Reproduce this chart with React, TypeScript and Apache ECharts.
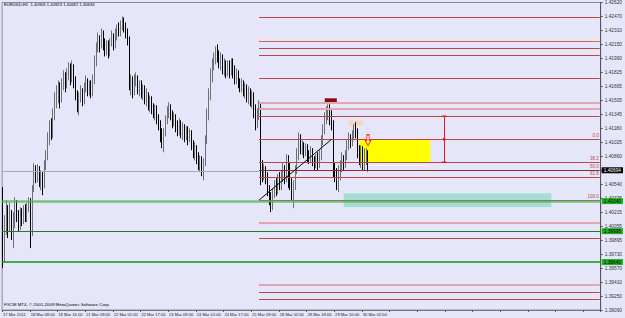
import React, { useEffect, useRef } from "react";
import * as echarts from "echarts";

const SYMBOL = "EURUSD,H1";
const TIME_LABELS = [
  "17 Mar 2011", "18 Mar 08:00", "18 Mar 16:00", "21 Mar 09:00", "22 Mar 01:00",
  "22 Mar 17:00", "23 Mar 09:00", "24 Mar 01:00", "24 Mar 17:00", "25 Mar 09:00",
  "28 Mar 02:00", "28 Mar 18:00", "29 Mar 10:00", "30 Mar 02:00",
];
const BARS_PER_LABEL = 16;
const SLOT_COUNT = 346;
const Y_MIN = 1.3909;
const Y_INTERVAL = 0.0016045;
const Y_MAX = 1.426199;
const Y_TICK_LABELS = [
  "1.39090", "1.39250", "1.39410", "1.39570", "1.39730", "1.39895", "1.40055", "1.40215",
  "1.40375", "1.40540", "1.40700", "1.40860", "1.41025", "1.41180", "1.41345", "1.41505",
  "1.41665", "1.41825", "1.41990", "1.42150", "1.42310", "1.42470", "1.42620",
];

// [open, close, low, high]
const OHLC: number[][] = [
  [1.40408,1.39778,1.39572,1.40500],[1.39778,1.40064,1.39640,1.40179],[1.40064,1.40236,1.39950,1.40351],
  [1.40236,1.40064,1.39916,1.40294],[1.40064,1.40179,1.39984,1.40317],[1.40179,1.39984,1.39893,1.40236],
  [1.39984,1.40099,1.39801,1.40213],[1.40099,1.40294,1.40030,1.40385],[1.40294,1.40179,1.40099,1.40351],
  [1.40179,1.40064,1.39984,1.40236],[1.40064,1.40213,1.40007,1.40271],[1.40213,1.40122,1.40053,1.40259],
  [1.40122,1.40236,1.40076,1.40294],[1.40236,1.40145,1.40099,1.40305],[1.40145,1.40259,1.40099,1.40317],
  [1.40259,1.40351,1.40213,1.40385],[1.40351,1.39984,1.39801,1.40374],[1.39984,1.40466,1.39938,1.40523],
  [1.40466,1.40695,1.40443,1.40775],[1.40695,1.40603,1.40546,1.40752],[1.40603,1.40718,1.40557,1.40764],
  [1.40718,1.40580,1.40500,1.40741],[1.40580,1.40637,1.40466,1.40695],[1.40637,1.40523,1.40408,1.40672],
  [1.40523,1.40752,1.40489,1.40809],[1.40752,1.40867,1.40695,1.40924],[1.40867,1.41039,1.40809,1.41130],
  [1.41039,1.41176,1.40981,1.41268],[1.41176,1.41096,1.41039,1.41291],[1.41096,1.41325,1.41062,1.41405],
  [1.41325,1.41497,1.41268,1.41589],[1.41497,1.41554,1.41405,1.41669],[1.41554,1.41635,1.41463,1.41726],
  [1.41635,1.41520,1.41405,1.41703],[1.41520,1.41669,1.41474,1.41749],[1.41669,1.41749,1.41612,1.41841],
  [1.41749,1.41669,1.41589,1.41818],[1.41669,1.41783,1.41635,1.41864],[1.41783,1.41841,1.41726,1.41932],
  [1.41841,1.41749,1.41669,1.41921],[1.41749,1.41864,1.41703,1.41955],[1.41864,1.41726,1.41635,1.41910],
  [1.41726,1.41554,1.41497,1.41772],[1.41554,1.41440,1.41359,1.41612],[1.41440,1.41520,1.41325,1.41589],
  [1.41520,1.41589,1.41474,1.41669],[1.41589,1.41497,1.41428,1.41635],[1.41497,1.41635,1.41451,1.41703],
  [1.41635,1.41703,1.41589,1.41783],[1.41703,1.41612,1.41543,1.41749],[1.41612,1.41669,1.41554,1.41726],
  [1.41669,1.41589,1.41520,1.41726],[1.41589,1.41726,1.41543,1.41795],[1.41726,1.41932,1.41680,1.42013],
  [1.41932,1.42093,1.41887,1.42162],[1.42093,1.42185,1.42047,1.42276],[1.42185,1.42127,1.42047,1.42242],
  [1.42127,1.42242,1.42093,1.42322],[1.42242,1.42162,1.42070,1.42299],[1.42162,1.42070,1.42001,1.42208],
  [1.42070,1.42127,1.42013,1.42185],[1.42127,1.42047,1.41978,1.42185],[1.42047,1.42162,1.42001,1.42208],
  [1.42162,1.42208,1.42116,1.42299],[1.42208,1.42127,1.42070,1.42265],[1.42127,1.42242,1.42093,1.42322],
  [1.42242,1.42299,1.42185,1.42368],[1.42299,1.42276,1.42230,1.42391],[1.42276,1.42356,1.42230,1.42414],
  [1.42356,1.42391,1.42299,1.42460],[1.42391,1.42322,1.42276,1.42448],[1.42322,1.42276,1.42208,1.42391],
  [1.42276,1.42185,1.42127,1.42322],[1.42185,1.41669,1.41612,1.42230],[1.41669,1.41726,1.41554,1.41795],
  [1.41726,1.41612,1.41520,1.41772],[1.41612,1.41726,1.41554,1.41795],[1.41726,1.41749,1.41657,1.41818],
  [1.41749,1.41635,1.41566,1.41783],[1.41635,1.41680,1.41543,1.41726],[1.41680,1.41589,1.41520,1.41726],
  [1.41589,1.41635,1.41497,1.41680],[1.41635,1.41520,1.41451,1.41669],[1.41520,1.41554,1.41428,1.41635],
  [1.41554,1.41440,1.41382,1.41589],[1.41440,1.41497,1.41359,1.41554],[1.41497,1.41405,1.41337,1.41543],
  [1.41405,1.41359,1.41291,1.41463],[1.41359,1.41405,1.41268,1.41451],[1.41405,1.41291,1.41222,1.41440],
  [1.41291,1.41210,1.41153,1.41337],[1.41210,1.41096,1.41016,1.41268],[1.41096,1.41039,1.40947,1.41176],
  [1.41039,1.41130,1.40901,1.41176],[1.41130,1.41268,1.41084,1.41325],[1.41268,1.41359,1.41222,1.41428],
  [1.41359,1.41405,1.41291,1.41474],[1.41405,1.41325,1.41268,1.41451],[1.41325,1.41245,1.41176,1.41382],
  [1.41245,1.41291,1.41199,1.41359],[1.41291,1.41210,1.41130,1.41337],[1.41210,1.41153,1.41084,1.41268],
  [1.41153,1.41222,1.41096,1.41291],[1.41222,1.41130,1.41062,1.41268],[1.41130,1.41176,1.41039,1.41245],
  [1.41176,1.41084,1.41016,1.41222],[1.41084,1.41153,1.41039,1.41199],[1.41153,1.41062,1.40981,1.41199],
  [1.41062,1.41107,1.41016,1.41176],[1.41107,1.40981,1.40924,1.41153],[1.40981,1.40901,1.40832,1.41039],
  [1.40901,1.40947,1.40809,1.41016],[1.40947,1.40832,1.40764,1.40981],[1.40832,1.40752,1.40695,1.40901],
  [1.40752,1.40809,1.40672,1.40867],[1.40809,1.40695,1.40626,1.40855],[1.40695,1.40786,1.40580,1.40832],
  [1.40786,1.41039,1.40741,1.41096],[1.41039,1.41325,1.40993,1.41405],[1.41325,1.41554,1.41268,1.41635],
  [1.41554,1.41783,1.41497,1.41864],[1.41783,1.41898,1.41703,1.41978],[1.41898,1.41978,1.41841,1.42047],
  [1.41978,1.42047,1.41910,1.42116],[1.42047,1.42001,1.41932,1.42139],[1.42001,1.41932,1.41864,1.42070],
  [1.41932,1.41978,1.41841,1.42047],[1.41978,1.41864,1.41795,1.42024],[1.41864,1.41910,1.41772,1.41978],
  [1.41910,1.41818,1.41749,1.41955],[1.41818,1.41887,1.41772,1.41955],[1.41887,1.41841,1.41749,1.41955],
  [1.41841,1.41932,1.41783,1.41978],[1.41932,1.41841,1.41749,1.41978],[1.41841,1.41749,1.41680,1.41898],
  [1.41749,1.41795,1.41680,1.41864],[1.41795,1.41703,1.41635,1.41841],[1.41703,1.41657,1.41589,1.41749],
  [1.41657,1.41703,1.41589,1.41749],[1.41703,1.41612,1.41543,1.41726],[1.41612,1.41657,1.41520,1.41703],
  [1.41657,1.41554,1.41474,1.41680],[1.41554,1.41612,1.41451,1.41657],[1.41612,1.41497,1.41428,1.41635],
  [1.41497,1.41543,1.41405,1.41612],[1.41543,1.41382,1.41291,1.41589],[1.41382,1.41245,1.41153,1.41451],
  [1.41245,1.41325,1.41176,1.41405],[1.41325,1.41405,1.41268,1.41497],[1.41405,1.40718,1.40523,1.41474],
  [1.40718,1.40637,1.40557,1.40809],[1.40637,1.40695,1.40580,1.40764],[1.40695,1.40603,1.40534,1.40741],
  [1.40603,1.40466,1.40397,1.40672],[1.40466,1.40351,1.40294,1.40523],[1.40351,1.40294,1.40213,1.40443],
  [1.40294,1.40443,1.40236,1.40489],[1.40443,1.40523,1.40374,1.40580],[1.40523,1.40466,1.40397,1.40603],
  [1.40466,1.40580,1.40420,1.40649],[1.40580,1.40523,1.40466,1.40672],[1.40523,1.40626,1.40466,1.40695],
  [1.40626,1.40695,1.40557,1.40786],[1.40695,1.40603,1.40534,1.40752],[1.40603,1.40809,1.40557,1.40878],
  [1.40809,1.40718,1.40489,1.40867],[1.40718,1.40557,1.40466,1.40786],[1.40557,1.40466,1.40351,1.40603],
  [1.40466,1.40523,1.40259,1.40580],[1.40523,1.40695,1.40466,1.40752],[1.40695,1.40867,1.40649,1.40947],
  [1.40867,1.41039,1.40809,1.41130],[1.41039,1.40947,1.40878,1.41107],[1.40947,1.40981,1.40867,1.41039],
  [1.40981,1.40901,1.40832,1.41016],[1.40901,1.40947,1.40855,1.41004],[1.40947,1.40867,1.40786,1.40993],
  [1.40867,1.40832,1.40764,1.40924],[1.40832,1.40924,1.40786,1.40970],[1.40924,1.40809,1.40741,1.40947],
  [1.40809,1.40752,1.40695,1.40855],[1.40752,1.40832,1.40718,1.40878],[1.40832,1.40764,1.40695,1.40901],
  [1.40764,1.40867,1.40718,1.40924],[1.40867,1.41039,1.40809,1.41096],[1.41039,1.41153,1.40981,1.41222],
  [1.41153,1.41291,1.41107,1.41359],[1.41291,1.41359,1.41222,1.41428],[1.41359,1.41405,1.41268,1.41451],
  [1.41405,1.41291,1.41210,1.41451],[1.41291,1.41210,1.41153,1.41382],[1.41210,1.40695,1.40615,1.41268],
  [1.40695,1.40637,1.40557,1.40786],[1.40637,1.40557,1.40466,1.40718],[1.40557,1.40672,1.40443,1.40752],
  [1.40672,1.40752,1.40580,1.40809],[1.40752,1.40809,1.40672,1.40901],[1.40809,1.40752,1.40695,1.40867],
  [1.40752,1.40867,1.40718,1.40924],[1.40867,1.40981,1.40809,1.41039],[1.40981,1.41062,1.40924,1.41130],
  [1.41062,1.41016,1.40947,1.41107],[1.41016,1.41096,1.40970,1.41153],[1.41096,1.41176,1.41039,1.41222],
  [1.41176,1.41130,1.41062,1.41245],[1.41130,1.40924,1.40832,1.41176],[1.40924,1.40809,1.40752,1.40981],
  [1.40809,1.40924,1.40718,1.40981],[1.40924,1.40752,1.40695,1.40970],[1.40752,1.40832,1.40695,1.40947],
  [1.40832,1.40905,1.40752,1.40947],[1.40905,1.40694,1.40681,1.40923],
];

// drawn objects (prices and bar indices)
const OBJECT_START_BAR = 148;
const RED_LEVELS = [1.42448, 1.42093, 1.42013, 1.41749, 1.41314, 1.39916, 1.39297, 1.39216];
const ORANGE_LEVELS = [1.42173];
const PALE_LEVELS = [1.41474, 1.41405, 1.40087, 1.39377];
const FIB_RATIOS = ["0.0", "38.2", "50.0", "61.8", "100.0"];
const FIB_PRICES = [1.41050, 1.40786, 1.40695, 1.40615, 1.40351];
const GREEN_LEVELS = [1.40340, 1.39995, 1.39640];
const GRAY_LEVEL = 1.40683;
const DOTTED_LEVEL = { price: 1.40752, from: 212, to: 246 };
const TREND_LINE = [[148, 1.40351], [190, 1.41050]];
const YELLOW_BOX = [[206, 1.41050], [247, 1.40786]];
const TEAL_BOX = [[197, 1.40431], [317, 1.40271]];
const PEACH_BOX = [[200, 1.41268], [208, 1.41199]];
const MAROON_BOX = [[186, 1.41520], [193, 1.41474]];
const MEASURE = { bar: 255, prices: [1.41314, 1.41050, 1.40786] };
const ARROW = { bar: 211, price: 1.41039 };

const BG = "#e6e6fa";
const FONT = "Liberation Sans";

export default function App() {
  const ref = useRef<HTMLDivElement>(null);
  useEffect(() => {
    document.body.style.margin = "0";
    const chart = echarts.init(ref.current!, null, { renderer: "svg" });
    const categories = Array.from({ length: SLOT_COUNT }, (_, i) => String(i));
    const last = OHLC[OHLC.length - 1];
    const header = `${SYMBOL}  ${last[0].toFixed(5)} ${last[3].toFixed(5)} ${last[2].toFixed(5)} ${last[1].toFixed(5)}`;
    const END = SLOT_COUNT - 1;

    const seg = (price: number, color: string, width: number, extra: any = {}) => {
      const ls = { color, width, type: extra.type || "solid" };
      const lab = extra.label ? { show: true, ...extra.label } : { show: false };
      return [
        { coord: [extra.from ?? OBJECT_START_BAR, price], lineStyle: ls, label: lab },
        { coord: [extra.to ?? END, price], lineStyle: ls, label: lab },
      ];
    };

    const axisBadge = (price: number, bg: string, fg: string, lineColor: string, width: number) => ({
      yAxis: price,
      lineStyle: { color: lineColor, width, type: "solid" },
      label: {
        show: true, position: "end", distance: 1, formatter: price.toFixed(5), opacity: 1,
        backgroundColor: bg, color: fg, fontSize: 4.8, fontFamily: FONT, padding: [1, 2, 0, 2],
      },
    });

    const markLines: any[] = [];
    RED_LEVELS.forEach((p) => markLines.push(seg(p, "#b84848", 1)));
    ORANGE_LEVELS.forEach((p) => markLines.push(seg(p, "#d8683a", 1)));
    PALE_LEVELS.forEach((p) => markLines.push(seg(p, "#e2a6b0", 2)));
    FIB_PRICES.forEach((p, i) =>
      markLines.push(
        seg(p, i === 2 ? "#8a2f2f" : "#b84848", 1, {
          label: {
            position: "insideEndTop", formatter: FIB_RATIOS[i], color: "#b84848",
            fontSize: 4.5, fontFamily: FONT, distance: 1,
          },
        })
      )
    );
    markLines.push(seg(GRAY_LEVEL, "#a8a8b0", 1, { from: 0, to: OBJECT_START_BAR }));
    markLines.push(seg(DOTTED_LEVEL.price, "#ffffff", 1, { from: DOTTED_LEVEL.from, to: DOTTED_LEVEL.to, type: "dotted" }));
    markLines.push([
      { coord: TREND_LINE[0], lineStyle: { color: "#000", width: 1, type: "solid" } },
      { coord: TREND_LINE[1], lineStyle: { color: "#000", width: 1, type: "solid" } },
    ]);
    markLines.push([
      { coord: [MEASURE.bar, MEASURE.prices[0]], lineStyle: { color: "#e02020", width: 1, type: "solid" } },
      { coord: [MEASURE.bar, MEASURE.prices[2]], lineStyle: { color: "#e02020", width: 1, type: "solid" } },
    ]);
    markLines.push(axisBadge(GREEN_LEVELS[0], "#22b022", "#000", "rgba(80,180,80,0.75)", 2.5));
    markLines.push(axisBadge(GREEN_LEVELS[1], "#22b022", "#000", "#1f7f1f", 1));
    markLines.push(axisBadge(GREEN_LEVELS[2], "#22b022", "#000", "#119911", 1.5));
    markLines.push(axisBadge(last[1], "#000", "#fff", "rgba(0,0,0,0)", 1));

    const box = (b: number[][], color: string) => [
      { coord: b[0], itemStyle: { color, opacity: 1 } },
      { coord: b[1], itemStyle: { color, opacity: 1 } },
    ];

    const markPoints: any[] = [
      {
        coord: [ARROW.bar, ARROW.price],
        symbol: "path://M3,0 L7,0 L7,6 L10,6 L5,12 L0,6 L3,6 Z",
        symbolSize: [6, 11],
        itemStyle: { color: "rgba(255,230,200,0.7)", borderColor: "#ff3010", borderWidth: 1 },
      },
      ...MEASURE.prices.map((p, i) => ({
        coord: [MEASURE.bar, p],
        symbol: i === 1 ? "circle" : "rect",
        symbolSize: i === 1 ? 3 : [5, 1.5],
        itemStyle: { color: "#e02020" },
      })),
    ];

    chart.setOption({
      animation: false,
      backgroundColor: BG,
      grid: { left: 2, right: 17, top: 2, bottom: 8, show: true, borderColor: "#8a8a96", borderWidth: 1, backgroundColor: BG },
      xAxis: {
        type: "category",
        data: categories,
        boundaryGap: true,
        axisLine: { show: true, lineStyle: { color: "#777" } },
        axisTick: { show: true, interval: BARS_PER_LABEL - 1, length: 2, lineStyle: { color: "#555" } },
        axisLabel: {
          interval: BARS_PER_LABEL - 1,
          align: "left",
          margin: 2,
          fontSize: 4.1,
          fontFamily: FONT,
          color: "#222",
          formatter: (_v: string, idx: number) => {
            const k = idx / BARS_PER_LABEL;
            return Number.isInteger(k) && TIME_LABELS[k] ? TIME_LABELS[k] : "";
          },
        },
        splitLine: { show: false },
      },
      yAxis: {
        type: "value",
        position: "right",
        min: Y_MIN,
        max: Y_MAX,
        interval: Y_INTERVAL,
        axisLine: { show: true, lineStyle: { color: "#555" } },
        axisTick: { show: true, length: 2, lineStyle: { color: "#555" } },
        axisLabel: {
          margin: 4,
          fontSize: 4.8,
          fontFamily: FONT,
          color: "#333",
          formatter: (v: number) => {
            const i = Math.round((v - Y_MIN) / Y_INTERVAL);
            return Y_TICK_LABELS[Math.max(0, Math.min(Y_TICK_LABELS.length - 1, i))];
          },
        },
        splitLine: { show: false },
      },
      series: [
        {
          type: "candlestick",
          data: OHLC,
          barWidth: 1.2,
          itemStyle: {
            color: "#f4f4f4",
            borderColor: "#707070",
            color0: "#000000",
            borderColor0: "#000000",
            borderWidth: 1,
          },
          markArea: {
            silent: true,
            data: [
              box(TEAL_BOX, "#a6dcd6"),
              box(YELLOW_BOX, "#ffff00"),
              box(PEACH_BOX, "#f6d8bc"),
              box(MAROON_BOX, "#8b0a0a"),
            ],
          },
          markLine: {
            silent: true,
            precision: 5,
            symbol: ["none", "none"],
            lineStyle: { type: "solid" },
            label: { show: false },
            data: markLines,
          },
          markPoint: {
            silent: true,
            label: { show: false },
            data: markPoints,
          },
        },
      ],
      graphic: [
        {
          type: "text", left: 4, top: 2,
          style: { text: header, fontSize: 4.2, fontFamily: FONT, fill: "#000" },
        },
        {
          type: "text", left: 4, top: 302,
          style: { text: "FXCM MT4, © 2001-2009 MetaQuotes Software Corp.", fontSize: 4.4, fontFamily: FONT, fill: "#000" },
        },
      ],
    });
    return () => chart.dispose();
  }, []);
  return <div ref={ref} style={{ width: 625, height: 318, background: BG }} />;
}
